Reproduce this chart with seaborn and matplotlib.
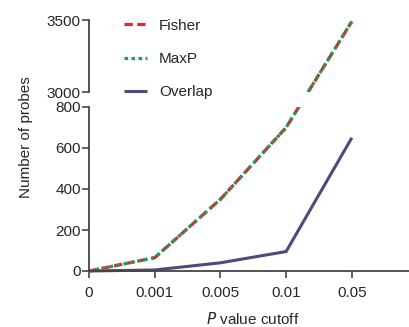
import numpy as np
import pandas as pd
import seaborn as sns
import matplotlib
matplotlib.use("Agg")
import matplotlib.pyplot as plt
from matplotlib.transforms import Bbox, TransformedBbox

cutoffs = ["0", "0.001", "0.005", "0.01", "0.05"]
fisher = [0, 65, 350, 700, 3490]
maxp = [0, 65, 350, 700, 3490]
overlap = [0, 5, 40, 95, 650]

sns.set_theme(style="ticks")
plt.rcParams["font.family"] = ["Liberation Sans", "DejaVu Sans"]
plt.rcParams["font.size"] = 11

W, H = 409, 327
# pixel geometry of the broken axis
top_px, brk_top_px, brk_bot_px, bot_px = 20, 92, 107, 271
low_lo, low_hi, up_lo, up_hi = 0, 800, 3000, 3500
low_scale = (bot_px - brk_bot_px) / (low_hi - low_lo)      # px per unit
up_scale = (brk_top_px - top_px) / (up_hi - up_lo)
gap_units = (brk_bot_px - brk_top_px) / low_scale
up_ratio = up_scale / low_scale


def fwd(y):
    y = np.asarray(y, dtype=float)
    mid = low_hi + (y - low_hi) * gap_units / (up_lo - low_hi)
    upper = low_hi + gap_units + (y - up_lo) * up_ratio
    return np.where(y <= low_hi, y, np.where(y < up_lo, mid, upper))


def inv(t):
    t = np.asarray(t, dtype=float)
    mid = low_hi + (t - low_hi) * (up_lo - low_hi) / gap_units
    upper = up_lo + (t - low_hi - gap_units) / up_ratio
    return np.where(t <= low_hi, t, np.where(t < low_hi + gap_units, mid, upper))


x = np.arange(len(cutoffs))
df = pd.DataFrame({"x": np.tile(x, 3),
                   "y": fisher + maxp + overlap,
                   "series": ["Fisher"] * 5 + ["MaxP"] * 5 + ["Overlap"] * 5})

fig = plt.figure(figsize=(4.09, 3.27), dpi=100)
left = 89 / W
ax_top = fig.add_axes([left, 1 - brk_top_px / H, 1 - left, (brk_top_px - top_px) / H])
ax_bot = fig.add_axes([left, 1 - bot_px / H, 1 - left, (bot_px - brk_bot_px) / H])
for ax in (ax_top, ax_bot):
    ax.set_yscale("function", functions=(fwd, inv))

styles = {
    "Fisher": dict(color="#e5262b", lw=2.3, dashes=(2.6, 1.4)),
    "MaxP": dict(color="#1e9a57", lw=2.3, dashes=(1.1, 1.1)),
    "Overlap": dict(color="#4d4a7e", lw=2.2, dashes=None),
}
order = ["Overlap", "Fisher", "MaxP"]
handles = {}
for ax in (ax_top, ax_bot):
    for s in order:
        st = styles[s]
        sub = df[df.series == s]
        sns.lineplot(data=sub, x="x", y="y", ax=ax, color=st["color"],
                     linewidth=st["lw"], label=s, legend=False)
        ln = ax.lines[-1]
        if st["dashes"] is not None:
            ln.set_dashes(st["dashes"])
        ln.set_solid_capstyle("butt")
        ln.set_dash_capstyle("butt")
        if ax is ax_bot:
            bb = TransformedBbox(Bbox([[-0.05, -0.05], [1.0, 1.0]]), ax.transAxes)
            ln.set_clip_box(bb)
            ln.set_clip_path(None)
            handles[s] = ln

xmax = 4.87
for ax in (ax_top, ax_bot):
    ax.set_xlim(0, xmax)
    ax.set_xlabel("")
    ax.set_ylabel("")
    for sp in ("top", "right"):
        ax.spines[sp].set_visible(False)
    ax.spines["left"].set_color("#444444")
    ax.spines["left"].set_linewidth(1.3)
    ax.tick_params(axis="y", which="both", length=5, width=1.2, color="#444444",
                   labelsize=11, pad=1)
    ax.minorticks_off()

ax_top.set_ylim(up_lo, up_hi)
ax_top.set_yticks([3000, 3500])
ax_top.set_yticklabels(["3000", "3500"])
ax_top.spines["bottom"].set_visible(False)
ax_top.set_xticks([])

ax_bot.set_ylim(low_lo, low_hi)
ax_bot.set_yticks([0, 200, 400, 600, 800])
ax_bot.set_yticklabels(["0", "200", "400", "600", "800"])
ax_bot.set_xticks(x)
ax_bot.set_xticklabels(cutoffs)
ax_bot.spines["bottom"].set_color("#444444")
ax_bot.spines["bottom"].set_linewidth(1.3)
ax_bot.tick_params(axis="x", length=5, width=1.2, color="#444444", labelsize=11, pad=6)

fig.text(26 / W, 1 - 137.5 / H, "Number of probes", rotation=90, ha="center",
         va="center", fontsize=11)
fig.text(253 / W, 1 - 319 / H, r"$\it{P}$ value cutoff", ha="center", va="center",
         fontsize=11)

leg = fig.legend([handles["Fisher"], handles["MaxP"], handles["Overlap"]],
                 ["Fisher", "MaxP", "Overlap"],
                 loc="upper left", bbox_to_anchor=(110 / W, 1 - 5 / H),
                 frameon=False, fontsize=11, labelspacing=1.25,
                 handlelength=1.5, handletextpad=0.8)

fig.savefig("out.png", dpi=100)
